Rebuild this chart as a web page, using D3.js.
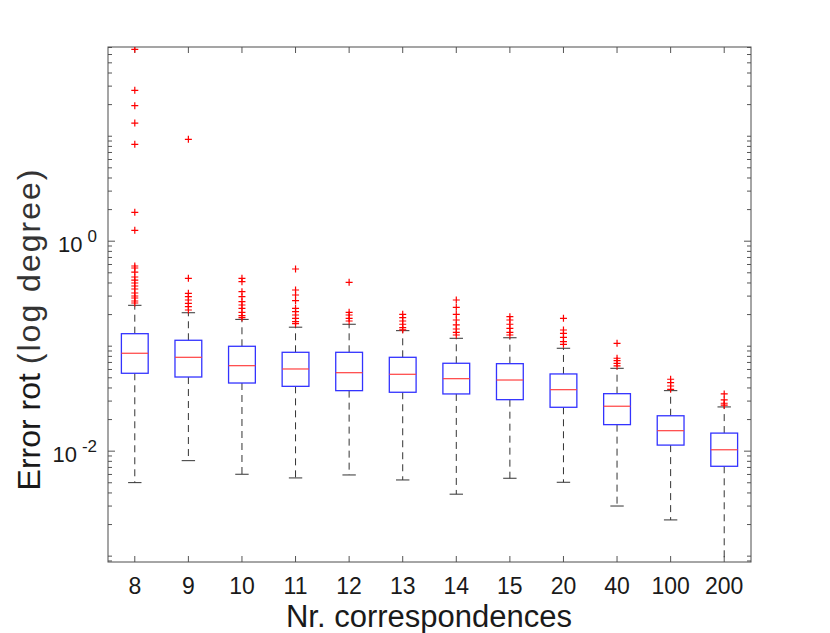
<!DOCTYPE html>
<html>
<head>
<meta charset="utf-8">
<script src="https://cdn.jsdelivr.net/npm/d3@7"></script>
<style>
  body { margin: 0; background: #fff; }
  svg { display: block; }
</style>
</head>
<body>
<div id="chart"></div>
<script>
// ---------- Data ----------
const categories = ["8", "9", "10", "11", "12", "13", "14", "15", "20", "40", "100", "200"];

const whiskerHi = [0.2425, 0.206, 0.178, 0.150, 0.160, 0.139, 0.1176, 0.119, 0.0945, 0.0609, 0.0373, 0.0261];
const q3        = [0.1301, 0.1126, 0.0987, 0.0865, 0.0865, 0.0775, 0.0680, 0.0674, 0.0538, 0.0349, 0.0215, 0.0147];
const medians   = [0.0847, 0.0775, 0.0645, 0.0600, 0.0553, 0.0534, 0.0485, 0.0471, 0.0381, 0.0265, 0.0155, 0.0102];
const q1        = [0.0546, 0.0503, 0.0441, 0.0410, 0.0373, 0.0360, 0.0347, 0.0306, 0.0259, 0.0177, 0.0113, 0.00710];
const whiskerLo = [0.00496, 0.00803, 0.00596, 0.00550, 0.00587, 0.00526, 0.00385, 0.00546, 0.00500, 0.00297, 0.00219, 0.0007];

const outliers = [
  [66.5, 27.06, 19.31, 13.21, 8.28, 1.865, 1.256, 0.574, 0.5495, 0.503, 0.451, 0.422, 0.3955, 0.3703, 0.3467, 0.3176, 0.2974, 0.2846, 0.2665, 0.2551],
  [9.24, 0.4385, 0.3155, 0.2929, 0.2724, 0.2534, 0.2351, 0.2188],
  [0.4385, 0.407, 0.3268, 0.2929, 0.2624, 0.2442, 0.2271, 0.208, 0.1931, 0.1848],
  [0.5376, 0.3393, 0.3040, 0.2683, 0.2271, 0.2108, 0.1961, 0.1824, 0.1693, 0.162],
  [0.4016, 0.208, 0.1961, 0.1824, 0.1719],
  [0.1991, 0.1848, 0.1719, 0.160, 0.1484, 0.1415],
  [0.2724, 0.2321, 0.1991, 0.1757, 0.1575, 0.1442, 0.1341, 0.1264],
  [0.1889, 0.1757, 0.160, 0.1464, 0.1341, 0.1264],
  [0.1824, 0.1411, 0.1312, 0.1202, 0.1092, 0.1031],
  [0.1054, 0.0759, 0.0720, 0.0677, 0.0641],
  [0.0479, 0.0444, 0.0413, 0.0384],
  [0.0347, 0.0304, 0.0283, 0.0271]
];

const yDomain = [0.00087, 70];
const majorTicks = [0.01, 1];
const majorLabels = [{base: "10", exp: "-2"}, {base: "10", exp: "0"}];

// ---------- Layout ----------
const width = 830, height = 633;
const margin = {top: 47, right: 79, bottom: 71, left: 108};
const font = "Liberation Sans, Arial, Helvetica, sans-serif";

const svg = d3.select("#chart").append("svg")
  .attr("width", width)
  .attr("height", height);

const x = d3.scaleBand()
  .domain(categories)
  .range([margin.left, width - margin.right])
  .paddingInner(0).paddingOuter(0);

const y = d3.scaleLog()
  .domain(yDomain)
  .range([height - margin.bottom, margin.top]);

const xc = d => x(d) + x.bandwidth() / 2;
const boxW = x.bandwidth() * 0.5;
const capW = boxW * 0.5;

const rows = categories.map((c, i) => ({
  cat: c,
  lo: whiskerLo[i], q1: q1[i], med: medians[i], q3: q3[i], hi: whiskerHi[i],
  out: outliers[i]
}));

// clip so the 200 whisker stops at the axis
svg.append("clipPath").attr("id", "plot-clip")
  .append("rect")
  .attr("x", margin.left).attr("y", margin.top)
  .attr("width", width - margin.left - margin.right)
  .attr("height", height - margin.top - margin.bottom);

// ---------- Ticks ----------
const minorTicks = [];
for (let e = -4; e <= 2; e++) {
  for (let k = 1; k <= 9; k++) {
    const v = k * Math.pow(10, e);
    if (v >= yDomain[0] && v <= yDomain[1] && !majorTicks.includes(+v.toPrecision(6))) minorTicks.push(v);
  }
}

const tickColor = "#555";
const axes = svg.append("g").attr("class", "axes");

function yTicks(vals, len) {
  axes.append("g")
    .attr("transform", `translate(${margin.left},0)`)
    .call(d3.axisRight(y).tickValues(vals).tickSize(len).tickFormat(""))
    .call(g => g.select(".domain").remove())
    .selectAll("line").attr("stroke", tickColor);
  axes.append("g")
    .attr("transform", `translate(${width - margin.right},0)`)
    .call(d3.axisLeft(y).tickValues(vals).tickSize(len).tickFormat(""))
    .call(g => g.select(".domain").remove())
    .selectAll("line").attr("stroke", tickColor);
}
yTicks(minorTicks, 4);
yTicks(majorTicks, 7);

// x ticks, inward on bottom and top
axes.append("g")
  .attr("transform", `translate(0,${height - margin.bottom})`)
  .call(d3.axisTop(x).tickSize(6).tickFormat(""))
  .call(g => g.select(".domain").remove())
  .selectAll("line").attr("stroke", tickColor);
axes.append("g")
  .attr("transform", `translate(0,${margin.top})`)
  .call(d3.axisBottom(x).tickSize(6).tickFormat(""))
  .call(g => g.select(".domain").remove())
  .selectAll("line").attr("stroke", tickColor);

// frame
svg.append("rect")
  .attr("x", margin.left).attr("y", margin.top)
  .attr("width", width - margin.left - margin.right)
  .attr("height", height - margin.top - margin.bottom)
  .attr("fill", "none")
  .attr("stroke", "#4d4d4d")
  .attr("stroke-width", 1);

// ---------- Tick labels ----------
svg.append("g")
  .selectAll("text")
  .data(categories)
  .join("text")
  .attr("x", d => xc(d))
  .attr("y", 594)
  .attr("text-anchor", "middle")
  .attr("font-family", font)
  .attr("font-size", 23)
  .attr("fill", "#1a1a1a")
  .text(d => d);

const ylab = svg.append("g")
  .selectAll("text")
  .data(majorTicks)
  .join("text")
  .attr("x", 97)
  .attr("y", d => y(d) + 11)
  .attr("text-anchor", "end")
  .attr("font-family", font)
  .attr("fill", "#1a1a1a");
ylab.append("tspan").attr("font-size", 22).text((d, i) => majorLabels[i].base);
ylab.append("tspan").attr("font-size", 17).attr("dx", 5).attr("dy", -10).text((d, i) => majorLabels[i].exp);

// ---------- Axis titles ----------
svg.append("text")
  .attr("x", 429)
  .attr("y", 627)
  .attr("text-anchor", "middle")
  .attr("font-family", font)
  .attr("font-size", 31)
  .attr("fill", "#1a1a1a")
  .text("Nr. correspondences");

const yt = svg.append("text")
  .attr("transform", "translate(40,329) rotate(-90)")
  .attr("text-anchor", "middle")
  .attr("font-family", font)
  .attr("font-size", 32)
  .attr("fill", "#1a1a1a");
yt.append("tspan").text("Error rot ");
yt.append("tspan").attr("letter-spacing", 2).attr("fill", "#333").text("(log degree)");

// ---------- Boxes ----------
const plot = svg.append("g").attr("clip-path", "url(#plot-clip)");

const g = plot.selectAll("g.box")
  .data(rows)
  .join("g")
  .attr("class", "box");

// whiskers (dashed)
g.append("line")
  .attr("x1", d => xc(d.cat)).attr("x2", d => xc(d.cat))
  .attr("y1", d => y(d.q3)).attr("y2", d => y(d.hi))
  .attr("stroke", "#333").attr("stroke-dasharray", "7,5");
g.append("line")
  .attr("x1", d => xc(d.cat)).attr("x2", d => xc(d.cat))
  .attr("y1", d => y(d.q1)).attr("y2", d => y(d.lo))
  .attr("stroke", "#333").attr("stroke-dasharray", "7,5");

// caps
g.append("line")
  .attr("x1", d => xc(d.cat) - capW / 2).attr("x2", d => xc(d.cat) + capW / 2)
  .attr("y1", d => y(d.hi)).attr("y2", d => y(d.hi))
  .attr("stroke", "#333");
g.append("line")
  .attr("x1", d => xc(d.cat) - capW / 2).attr("x2", d => xc(d.cat) + capW / 2)
  .attr("y1", d => y(d.lo)).attr("y2", d => y(d.lo))
  .attr("stroke", "#333");

// box
g.append("rect")
  .attr("x", d => xc(d.cat) - boxW / 2)
  .attr("width", boxW)
  .attr("y", d => y(d.q3))
  .attr("height", d => y(d.q1) - y(d.q3))
  .attr("fill", "none")
  .attr("stroke", "#3333ff")
  .attr("stroke-width", 1.3);

// median
g.append("line")
  .attr("x1", d => xc(d.cat) - boxW / 2).attr("x2", d => xc(d.cat) + boxW / 2)
  .attr("y1", d => y(d.med)).attr("y2", d => y(d.med))
  .attr("stroke", "#ff4040")
  .attr("stroke-width", 1.2);

// outliers
const plus = "M-3.5,0H3.5M0,-3.5V3.5";
g.selectAll("path.out")
  .data(d => d.out.map(v => ({cat: d.cat, v})))
  .join("path")
  .attr("class", "out")
  .attr("d", plus)
  .attr("transform", d => `translate(${xc(d.cat)},${y(d.v)})`)
  .attr("fill", "none")
  .attr("stroke", "#ff0000")
  .attr("stroke-width", 1.2);
</script>
</body>
</html>
